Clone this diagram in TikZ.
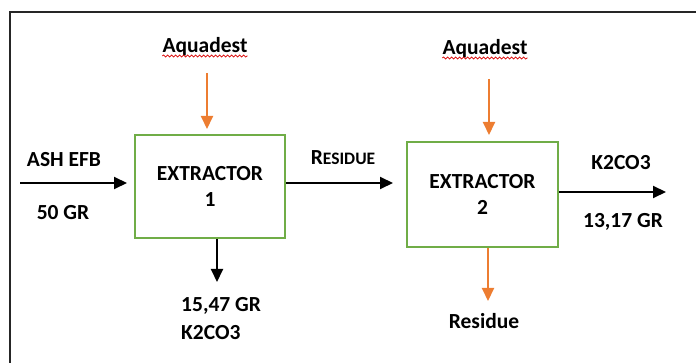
\documentclass[tikz,border=0pt]{standalone}
\usepackage{fontspec}
\setmainfont{Carlito}
\usetikzlibrary{positioning,arrows.meta,decorations.pathmorphing}
\definecolor{exgreen}{HTML}{70AD47}
\definecolor{exorange}{HTML}{ED7D31}

\begin{document}
\begin{tikzpicture}[x=1pt,y=-1pt,font=\fontsize{21.5}{26}\selectfont\bfseries,
  unit/.style={rectangle,draw=exgreen,line width=2pt,align=center,inner sep=0pt},
  lbl/.style={inner sep=0pt,anchor=base},
  ar/.style={-{Triangle[length=13pt,width=12pt]},line width=2pt,black},
  wat/.style={ar,exorange},
  wavy/.style={red!85!black,line width=0.7pt,decorate,decoration={snake,amplitude=1.1pt,segment length=4pt}}]
\useasboundingbox (0,0) rectangle (696,363);
% frame
\draw[line width=1.4pt,black!85] (10,363) -- (10,12) -- (696,12);
% extractors
\node[unit,minimum width=150pt,minimum height=103pt] (ext1) at (210,186.5) {EXTRACTOR\\1};
\node[unit,minimum width=151pt,minimum height=105pt] (ext2) at (482.5,194.5) {EXTRACTOR\\2};
% labels
\node[lbl] (aq1) at (205,53) {Aquadest};
\node[lbl] (aq2) at (485,55) {Aquadest};
\node[lbl] (ash) at (64,167) {ASH EFB};
\node[lbl] (m0) at (63,220) {50 GR};
\node[lbl] (res) at (343,165) {R{\fontsize{17.5}{20}\selectfont ESIDUE}};
\node[lbl,anchor=base west] (m1) at (181,312) {15,47 GR};
\node[lbl,anchor=base west] (k1) at (181,339) {K2CO3};
\node[lbl] (k2) at (621,170) {K2CO3};
\node[lbl] (m2) at (623,228) {13,17 GR};
\node[lbl] (res2) at (484,328) {Residue};
\draw[wavy] ([yshift=-3pt]aq1.base west) -- ([yshift=-3pt]aq1.base east);
\draw[wavy] ([yshift=-3pt]aq2.base west) -- ([yshift=-3pt]aq2.base east);
% stream ends
\coordinate (src) at (20,183);
\coordinate (w1) at (207,73);
\coordinate (w2) at (489,79);
\coordinate (p1) at (217,282);
\coordinate (p2) at (488,301);
\coordinate (out2) at (666,192);
% streams
\draw[ar,shorten >=7pt] (src) -- (src -| ext1.west);
\draw[ar,shorten >=13pt] (ext1.east |- src) -- (ext2.west |- src);
\draw[ar] (ext2.east |- out2) -- (out2);
\draw[wat,shorten >=5pt] (w1) -- (w1 |- ext1.north);
\draw[wat,shorten >=6pt] (w2) -- (w2 |- ext2.north);
\draw[ar] (ext1.south -| p1) -- (p1);
\draw[wat] (ext2.south -| p2) -- (p2);
\end{tikzpicture}
\end{document}
